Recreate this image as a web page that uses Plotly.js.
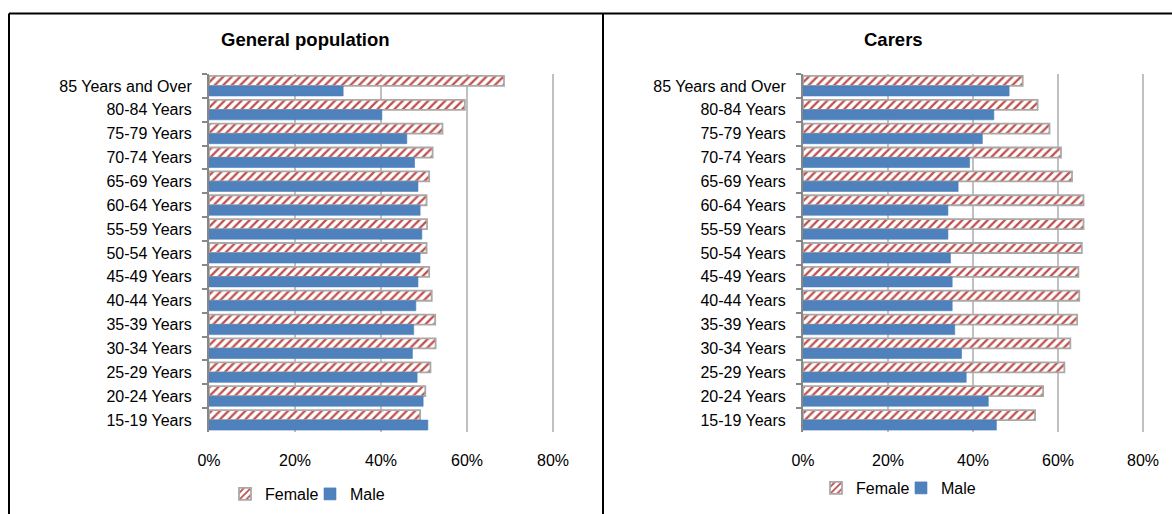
<!DOCTYPE html>
<html>
<head>
<meta charset="utf-8">
<script src="https://cdn.plot.ly/plotly-3.0.1.min.js"></script>
<style>
  html, body { margin: 0; padding: 0; background: #ffffff; }
  #chart { width: 1172px; height: 514px; }
</style>
</head>
<body>
<div id="chart"></div>
<script>
// Age bands, top to bottom
const ageBands = [
  '85 Years and Over', '80-84 Years', '75-79 Years', '70-74 Years', '65-69 Years',
  '60-64 Years', '55-59 Years', '50-54 Years', '45-49 Years', '40-44 Years',
  '35-39 Years', '30-34 Years', '25-29 Years', '20-24 Years', '15-19 Years'
];

// Share of each age band by sex (%), general population
const generalFemale = [68.6, 59.5, 54.3, 52.0, 51.2, 50.6, 50.7, 50.6, 51.2, 51.8, 52.6, 52.7, 51.5, 50.3, 49.1];
const generalMale   = [31.2, 40.2, 46.0, 47.8, 48.6, 49.1, 49.5, 49.1, 48.6, 48.1, 47.6, 47.3, 48.4, 49.8, 50.9];

// Share of each age band by sex (%), carers
const carersFemale = [51.7, 55.2, 58.0, 60.7, 63.3, 66.0, 66.0, 65.6, 64.8, 65.0, 64.5, 62.9, 61.5, 56.5, 54.6];
const carersMale   = [48.5, 44.9, 42.2, 39.2, 36.5, 34.1, 34.1, 34.7, 35.1, 35.1, 35.7, 37.3, 38.4, 43.6, 45.5];

// Percentage axis ticks
const pctTickVals = [0, 20, 40, 60, 80];
const pctTickText = ['0%', '20%', '40%', '60%', '80%'];

const W = 1172, H = 514;
const px = v => v / W;          // horizontal pixel -> paper fraction
const py = v => 1 - v / H;      // vertical pixel -> paper fraction

// A hair of headroom past 80% so the last gridline is drawn
const X_MAX = 80.4;
const xEnd = (x0, x80) => x0 + (x80 - x0) * X_MAX / 80;

const baseFont = { family: 'Liberation Sans, Arial, sans-serif', size: 16, color: '#000000' };
const titleFont = { family: 'Liberation Sans, Arial, sans-serif', size: 18.5, color: '#000000' };
const femaleMarker = {
  color: '#ffffff',
  pattern: { shape: '/', fgcolor: '#c0504d', bgcolor: '#ffffff', size: 6, solidity: 0.38, fillmode: 'replace' },
  line: { color: '#a9a9a9', width: 1.8 }
};
const maleMarker = { color: '#4f81bd', line: { color: '#4a7ebb', width: 0.6 } };

const traces = [
  { type: 'bar', orientation: 'h', name: 'Female', x: generalFemale, y: ageBands,
    xaxis: 'x', yaxis: 'y', marker: femaleMarker, legend: 'legend', hoverinfo: 'x+y+name' },
  { type: 'bar', orientation: 'h', name: 'Male', x: generalMale, y: ageBands,
    xaxis: 'x', yaxis: 'y', marker: maleMarker, legend: 'legend', hoverinfo: 'x+y+name' },
  { type: 'bar', orientation: 'h', name: 'Female', x: carersFemale, y: ageBands,
    xaxis: 'x2', yaxis: 'y2', marker: femaleMarker, legend: 'legend2', hoverinfo: 'x+y+name' },
  { type: 'bar', orientation: 'h', name: 'Male', x: carersMale, y: ageBands,
    xaxis: 'x2', yaxis: 'y2', marker: maleMarker, legend: 'legend2', hoverinfo: 'x+y+name' }
];

const xAxisCommon = {
  range: [0, X_MAX], tickvals: pctTickVals, ticktext: pctTickText,
  showgrid: true, gridcolor: '#c0c0c0', gridwidth: 2,
  zeroline: false, showline: false, ticks: '',
  ticklabelstandoff: 17, tickfont: baseFont, fixedrange: true
};
const yAxisCommon = {
  type: 'category', autorange: 'reversed',
  showline: true, linecolor: '#878787', linewidth: 2,
  ticks: 'outside', tickson: 'boundaries', ticklen: 5, tickwidth: 2, tickcolor: '#878787',
  ticklabelstandoff: 12, showgrid: false, zeroline: false,
  tickfont: baseFont, fixedrange: true,
  domain: [py(432), py(74)]
};

const legendCommon = {
  orientation: 'h', xanchor: 'left', yanchor: 'middle', entrywidth: 40,
  font: baseFont, bgcolor: 'rgba(0,0,0,0)', itemclick: false, itemdoubleclick: false
};

const borderLine = { color: '#000000', width: 2 };
const layout = {
  width: W, height: H,
  margin: { l: 0, r: 0, t: 0, b: 0 },
  paper_bgcolor: '#ffffff', plot_bgcolor: 'rgba(0,0,0,0)',
  font: baseFont,
  barmode: 'group', bargap: 0.16, bargroupgap: 0,
  showlegend: true,
  xaxis: Object.assign({}, xAxisCommon, { domain: [px(209), px(xEnd(209, 553))], anchor: 'y' }),
  yaxis: Object.assign({}, yAxisCommon, { anchor: 'x' }),
  xaxis2: Object.assign({}, xAxisCommon, { domain: [px(803), px(xEnd(803, 1143))], anchor: 'y2' }),
  yaxis2: Object.assign({}, yAxisCommon, { anchor: 'x2' }),
  legend: Object.assign({}, legendCommon, { x: px(225), y: py(494) }),
  legend2: Object.assign({}, legendCommon, { x: px(816), y: py(488) }),
  shapes: [
    { type: 'line', xref: 'paper', yref: 'paper', x0: px(9), x1: 1, y0: py(13.5), y1: py(13.5), line: borderLine },
    { type: 'line', xref: 'paper', yref: 'paper', x0: px(9), x1: px(9), y0: py(13.5), y1: 0, line: borderLine },
    { type: 'line', xref: 'paper', yref: 'paper', x0: px(603), x1: px(603), y0: py(13.5), y1: 0, line: borderLine }
  ],
  annotations: [
    { text: '<b>General population</b>', xref: 'paper', yref: 'paper', x: px(305), y: py(40),
      xanchor: 'center', yanchor: 'middle', showarrow: false, font: titleFont },
    { text: '<b>Carers</b>', xref: 'paper', yref: 'paper', x: px(893), y: py(40),
      xanchor: 'center', yanchor: 'middle', showarrow: false, font: titleFont }
  ]
};

Plotly.newPlot('chart', traces, layout, { displayModeBar: false, responsive: false });
</script>
</body>
</html>
